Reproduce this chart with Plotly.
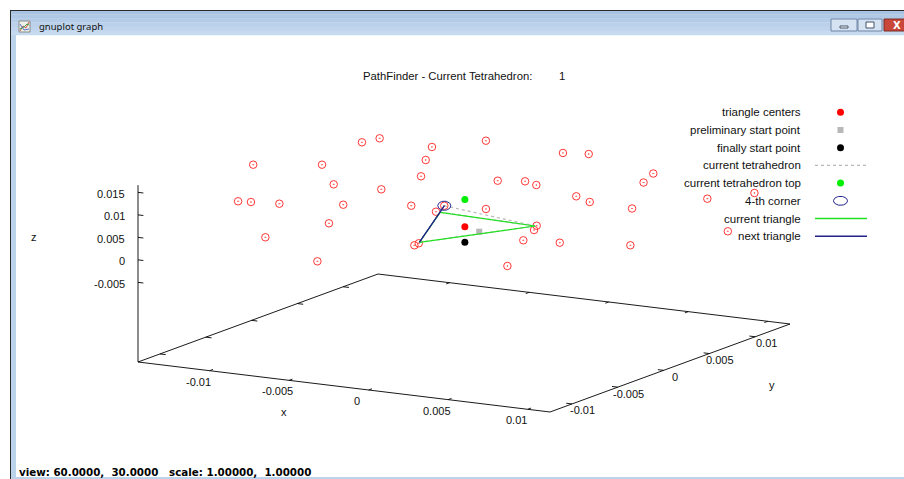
import numpy as np
import plotly.graph_objects as go

W, H = 904, 479

# ---------------- data ----------------
XMIN, XMAX = -0.0145, 0.0114
YMIN, YMAX = -0.0124, 0.0138
ZMIN, ZMAX = -0.0096, 0.0166
TICSLEVEL = 0.5
VIEW = (60.0, 30.0)
SCALE = (1.0, 1.0)
TETRA_NO = 1

x_ticks = [-0.01, -0.005, 0.0, 0.005, 0.01]
x_tick_labels = ["-0.01", "-0.005", "0", "0.005", "0.01"]
y_ticks = [-0.01, -0.005, 0.0, 0.005, 0.01]
y_tick_labels = ["-0.01", "-0.005", "0", "0.005", "0.01"]
z_ticks = [-0.005, 0.0, 0.005, 0.01, 0.015]
z_tick_labels = ["-0.005", "0", "0.005", "0.01", "0.015"]

# mesh triangle centers (cloud of open circles)
cloud_x = [-0.01320, -0.00937, -0.00979, -0.00918, -0.00588, -0.00508, -0.00436,
           -0.00803, -0.00630, -0.01152, -0.01082, -0.00984, -0.00785, -0.00509,
           -0.00845, -0.01023, -0.00874, -0.00315, -0.00237, -0.00448, -0.00453,
           -0.00414, 0.00079, 0.00185, 0.00683, 0.00695, -0.00075, 0.00062,
           0.00105, 0.00439, 0.00518, 0.00628, 0.00002, 0.00283, 0.00268,
           0.00234, 0.00379, 0.00630, 0.00142, 0.00857, 0.01035, 0.00968]
cloud_y = [-0.00208, -0.00122, 0.00387, 0.00474, 0.00472, 0.00265, 0.00089,
           -0.00227, -0.00008, -0.00665, -0.00646, -0.00506, -0.00154, 0.00109,
           -0.00206, -0.00591, -0.00282, 0.00042, -0.00003, 0.00037, 0.00094,
           0.00759, 0.00744, 0.00841, 0.00681, 0.00554, 0.00299, 0.00360,
           0.00408, 0.00264, 0.00274, 0.00545, 0.00037, 0.00103, 0.00100,
           0.00042, 0.00188, 0.00523, 0.00028, 0.00969, 0.01174, 0.01000]
cloud_z = [0.014, 0.015, 0.016, 0.0165, 0.016, 0.015, 0.013,
           0.012, 0.010, 0.010, 0.010, 0.009, 0.007, 0.006,
           0.003, 0.002, -0.005, 0.006, 0.008, -0.002, -0.002,
           0.016, 0.0155, 0.015, 0.014, 0.013, 0.012, 0.012,
           0.011, 0.011, 0.010, 0.007, 0.008, 0.005, 0.004,
           0.002, 0.001, -0.001, -0.004, 0.007, 0.0075, 0.000]

# current triangle (V1, V2, V3) and 4th corner
tri_x = [-0.00288, 0.00279, -0.00463]
tri_y = [0.00040, 0.00092, 0.00118]
tri_z = [0.006, 0.005, -0.002]
corner4_x, corner4_y, corner4_z = -0.00237, -0.00003, 0.008

center_x, center_y, center_z = -0.00157, 0.00083, 0.003
top_x, top_y, top_z = -0.00157, 0.00083, 0.0091
start_x, start_y, start_z = -0.00157, 0.00083, -0.0004
prelim_x, prelim_y, prelim_z = -0.00027, 0.00014, 0.003

legend_labels = ["triangle centers", "preliminary start point", "finally start point",
                 "current tetrahedron", "current tetrahedron top", "4-th corner",
                 "current triangle", "next triangle"]

# ---------------- projection (gnuplot view 60,30) ----------------
ZB = ZMIN - TICSLEVEL * (ZMAX - ZMIN)
ORIGIN = (138.0, 362.0)
EX = (412.0, 50.0)
EY = (240.0, -88.0)
ZPX = 176.85


def proj(x, y, z):
    x = np.asarray(x, float)
    y = np.asarray(y, float)
    z = np.asarray(z, float)
    a = (x - XMIN) / (XMAX - XMIN)
    b = (y - YMIN) / (YMAX - YMIN)
    c = (z - ZB) / (ZMAX - ZB)
    sx = ORIGIN[0] + EX[0] * a + EY[0] * b
    sy = ORIGIN[1] + EX[1] * a + EY[1] * b - ZPX * c
    return sx, sy


def seg_trace(segs, color, width=1.0, dash=None):
    xs, ys = [], []
    for (p, q) in segs:
        s0 = proj(*p)
        s1 = proj(*q)
        xs += [float(s0[0]), float(s1[0]), None]
        ys += [float(s0[1]), float(s1[1]), None]
    line = dict(color=color, width=width)
    if dash:
        line["dash"] = dash
    return go.Scatter(x=xs, y=ys, mode="lines", line=line, hoverinfo="skip", showlegend=False)


FONT = "Liberation Sans, Arial, sans-serif"
fig = go.Figure()
shapes = []
ann = []

# ---------------- window chrome ----------------
bands = ["#a9c3e2", "#afc8e5", "#b5cce8", "#bbd1ea", "#c0d5ed", "#c5d9ef"]
for i, c in enumerate(bands):
    y0 = 10 + i * 25 / len(bands)
    shapes.append(dict(type="rect", x0=10, x1=W + 2, y0=y0, y1=y0 + 25 / len(bands) + 0.3,
                       fillcolor=c, line=dict(width=0), layer="below"))
shapes.append(dict(type="line", x0=10, x1=W + 2, y0=10.5, y1=10.5, line=dict(color="#2b2b2b", width=1), layer="below"))
shapes.append(dict(type="rect", x0=11, x1=16, y0=35, y1=H + 2, fillcolor="#bcd3ec", line=dict(width=0), layer="below"))
shapes.append(dict(type="line", x0=10.5, x1=10.5, y0=10, y1=H + 2, line=dict(color="#2b2b2b", width=1), layer="below"))
shapes.append(dict(type="rect", x0=16, x1=W + 2, y0=477, y1=H + 2, fillcolor="#bcd3ec", line=dict(width=0), layer="below"))
# icon
shapes.append(dict(type="rect", x0=19, x1=30, y0=21, y1=32, fillcolor="#eef2ea", line=dict(color="#8a8a8a", width=1), layer="below"))
shapes.append(dict(type="path", path="M 20,31 L 23,26 L 26,28 L 29,22", line=dict(color="#d05050", width=1), layer="below"))
shapes.append(dict(type="path", path="M 20,29 L 24,27 L 27,24 L 29,25", line=dict(color="#40a040", width=1), layer="below"))
shapes.append(dict(type="path", path="M 20,24 L 24,30 L 29,29", line=dict(color="#5070c0", width=1), layer="below"))
ann.append(dict(x=37, y=26.5, text="gnuplot graph", showarrow=False, xanchor="left", yanchor="middle",
                font=dict(family="Noto Sans, DejaVu Sans, sans-serif", size=9.5, color="#101010")))
# buttons
for (x0, x1) in [(831, 857), (858, 882)]:
    shapes.append(dict(type="rect", x0=x0, x1=x1, y0=19, y1=31, fillcolor="#d5e2f1",
                       line=dict(color="#6f86a6", width=1), layer="below"))
shapes.append(dict(type="rect", x0=840, x1=848, y0=26, y1=28, fillcolor="#ffffff", line=dict(color="#44546a", width=1), layer="below"))
shapes.append(dict(type="rect", x0=866, x1=874, y0=22, y1=28, fillcolor="#ffffff", line=dict(color="#44546a", width=1), layer="below"))
shapes.append(dict(type="rect", x0=884, x1=W + 10, y0=19, y1=31, fillcolor="#c9483a",
                   line=dict(color="#7a2a22", width=1), layer="below"))
ann.append(dict(x=897, y=25, text="<b>X</b>", showarrow=False, xanchor="center", yanchor="middle",
                font=dict(family="DejaVu Sans", size=10, color="#ffffff")))

# ---------------- axes / border ----------------
corners = [(XMIN, YMIN, ZB), (XMAX, YMIN, ZB), (XMAX, YMAX, ZB), (XMIN, YMAX, ZB)]
border = [(corners[i], corners[(i + 1) % 4]) for i in range(4)]
border.append(((XMIN, YMIN, ZB), (XMIN, YMIN, ZMAX)))
DXR, DYR = XMAX - XMIN, YMAX - YMIN
TL = 0.014
for t in x_ticks:
    border.append(((t, YMIN, ZB), (t, YMIN + TL * DYR, ZB)))
    border.append(((t, YMAX, ZB), (t, YMAX - TL * DYR, ZB)))
for t in y_ticks:
    border.append(((XMAX, t, ZB), (XMAX - TL * DXR, t, ZB)))
    border.append(((XMIN, t, ZB), (XMIN + TL * DXR, t, ZB)))
for t in z_ticks:
    border.append(((XMIN, YMIN, t), (XMIN + 0.013 * DXR, YMIN, t)))
fig.add_trace(seg_trace(border, "#000000", 0.9))

TF = dict(family=FONT, size=11, color="#111111")
for t, lab in zip(x_ticks, x_tick_labels):
    sx, sy = proj(t, YMIN, ZB)
    ann.append(dict(x=float(sx) - 11.5, y=float(sy) + 11, text=lab, showarrow=False,
                    xanchor="center", yanchor="middle", font=TF))
for t, lab in zip(y_ticks, y_tick_labels):
    sx, sy = proj(XMAX, t, ZB)
    ann.append(dict(x=float(sx) + 11, y=float(sy) + 6.5, text=lab, showarrow=False,
                    xanchor="center", yanchor="middle", font=TF))
for t, lab in zip(z_ticks, z_tick_labels):
    sx, sy = proj(XMIN, YMIN, t)
    ann.append(dict(x=float(sx) - 11, y=float(sy) + 1.5, text=lab, showarrow=False,
                    xanchor="right", yanchor="middle", font=TF))

mx, my = proj((XMIN + XMAX) / 2, YMIN, ZB)
ann.append(dict(x=float(mx) - 60, y=float(my) + 25, text="x", showarrow=False, font=TF))
mx, my = proj(XMAX, (YMIN + YMAX) / 2, ZB)
ann.append(dict(x=float(mx) + 102, y=float(my) + 16.5, text="y", showarrow=False, font=TF))
ann.append(dict(x=34, y=237, text="z", showarrow=False, font=TF))

# ---------------- data marks ----------------
RED, GRAY, GREEN, BLUE = "#ff0000", "#b8b8b8", "#22e022", "#22228c"

cx, cy = proj(cloud_x, cloud_y, cloud_z)
fig.add_trace(go.Scatter(x=cx, y=cy, mode="markers", hoverinfo="skip", showlegend=False,
                         marker=dict(symbol="circle-open-dot", size=7.5, color="#ff2020", line=dict(width=0.9))))

px_, py_ = proj([center_x], [center_y], [center_z])
fig.add_trace(go.Scatter(x=px_, y=py_, mode="markers", showlegend=False, hoverinfo="skip",
                         marker=dict(symbol="circle", size=7, color=RED)))
px_, py_ = proj([prelim_x], [prelim_y], [prelim_z])
fig.add_trace(go.Scatter(x=px_, y=py_, mode="markers", showlegend=False, hoverinfo="skip",
                         marker=dict(symbol="square", size=6, color=GRAY)))
px_, py_ = proj([start_x], [start_y], [start_z])
fig.add_trace(go.Scatter(x=px_, y=py_, mode="markers", showlegend=False, hoverinfo="skip",
                         marker=dict(symbol="circle", size=7, color="#000000")))

V = list(zip(tri_x, tri_y, tri_z))
V4 = (corner4_x, corner4_y, corner4_z)
tetra_edges = [(V[0], V[1]), (V[1], V[2]), (V[2], V[0]), (V4, V[0]), (V4, V[1]), (V4, V[2])]
fig.add_trace(seg_trace(tetra_edges, GRAY, 1.2, dash="3px,3px"))

px_, py_ = proj([top_x], [top_y], [top_z])
fig.add_trace(go.Scatter(x=px_, y=py_, mode="markers", showlegend=False, hoverinfo="skip",
                         marker=dict(symbol="circle", size=7, color="#00ee00")))

tt = np.linspace(0, 2 * np.pi, 64)
ex0, ey0 = proj(*V4)
fig.add_trace(go.Scatter(x=float(ex0) + 6.5 * np.cos(tt), y=float(ey0) + 4.6 * np.sin(tt), mode="lines",
                         line=dict(color=BLUE, width=1), hoverinfo="skip", showlegend=False))

fig.add_trace(seg_trace([(V[0], V[1]), (V[1], V[2]), (V[2], V[0])], GREEN, 1.2))
fig.add_trace(seg_trace([(V[2], V[0]), (V[0], V4), (V4, V[2])], BLUE, 1.1))

# ---------------- key (gnuplot style: text left, sample right) ----------------
LX_TEXT, LX0, LX1, LY0, LDY = 803, 815, 867, 112.3, 17.7
LXM = (LX0 + LX1) / 2 - 0.5
for i, lab in enumerate(legend_labels):
    ann.append(dict(x=LX_TEXT, y=LY0 + i * LDY, text=lab, showarrow=False, xanchor="right",
                    yanchor="middle", font=dict(family=FONT, size=11.5, color="#111111")))


def key_point(i, sym, size, color):
    fig.add_trace(go.Scatter(x=[LXM], y=[LY0 + i * LDY], mode="markers", hoverinfo="skip",
                             showlegend=False, marker=dict(symbol=sym, size=size, color=color)))


def key_line(i, color, width=1.2, dash=None):
    line = dict(color=color, width=width)
    if dash:
        line["dash"] = dash
    fig.add_trace(go.Scatter(x=[LX0, LX1], y=[LY0 + i * LDY] * 2, mode="lines", hoverinfo="skip",
                             showlegend=False, line=line))


key_point(0, "circle", 7, RED)
key_point(1, "square", 6, GRAY)
key_point(2, "circle", 7, "#000000")
key_line(3, GRAY, 1.2, "3px,3px")
key_point(4, "circle", 7, "#00ee00")
fig.add_trace(go.Scatter(x=LXM + 7 * np.cos(tt), y=LY0 + 5 * LDY + 4.5 * np.sin(tt), mode="lines",
                         line=dict(color=BLUE, width=1), hoverinfo="skip", showlegend=False))
key_line(6, GREEN, 1.4)
key_line(7, BLUE, 1.4)

# ---------------- title and status ----------------
ann.append(dict(x=361, y=75.5, text="PathFinder - Current Tetrahedron:", showarrow=False, xanchor="left",
                yanchor="middle", font=dict(family=FONT, size=11.3, color="#111111")))
ann.append(dict(x=561.5, y=75.5, text=str(TETRA_NO), showarrow=False, xanchor="center",
                yanchor="middle", font=dict(family=FONT, size=11.3, color="#111111")))
status = "view: %.4f,  %.4f   scale: %.5f,  %.5f" % (VIEW[0], VIEW[1], SCALE[0], SCALE[1])
ann.append(dict(x=17, y=471.5, text="<b>" + status.replace(" ", "&nbsp;") + "</b>", showarrow=False,
                xanchor="left", yanchor="middle",
                font=dict(family="DejaVu Sans, sans-serif", size=10.3, color="#000000")))

fig.update_layout(
    width=W, height=H, margin=dict(l=0, r=0, t=0, b=0),
    paper_bgcolor="#ffffff", plot_bgcolor="#ffffff",
    xaxis=dict(range=[0, W], visible=False, fixedrange=True),
    yaxis=dict(range=[H, 0], visible=False, fixedrange=True),
    showlegend=False, hovermode=False,
    shapes=shapes, annotations=ann,
)

fig.write_html("out.html", config={"displayModeBar": False})
